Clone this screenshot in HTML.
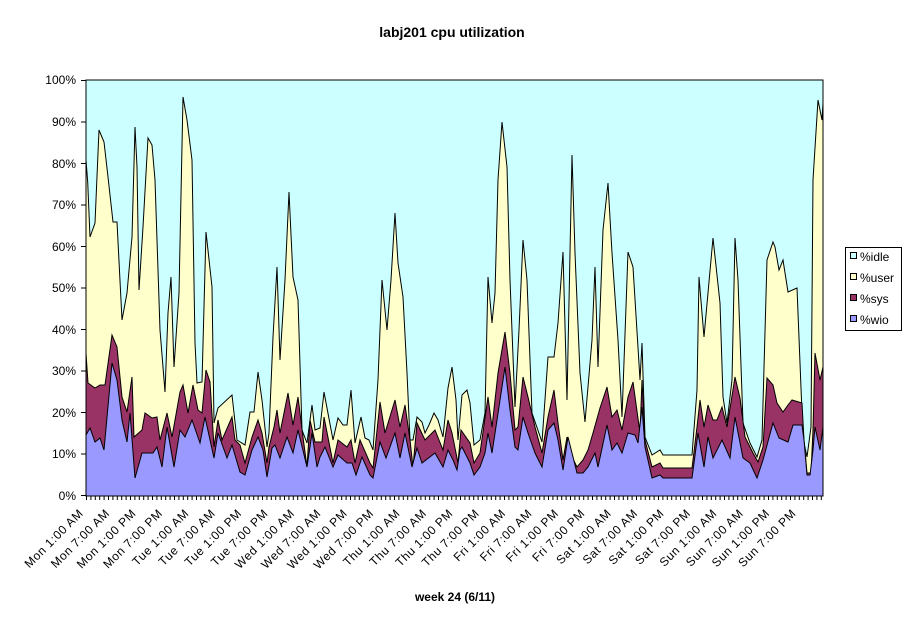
<!DOCTYPE html>
<html><head><meta charset="utf-8"><style>body{margin:0;background:#fff}svg{display:block}text{font-family:"Liberation Sans",Arial,sans-serif}</style></head><body>
<svg width="911" height="623" xmlns="http://www.w3.org/2000/svg">
<rect x="0" y="0" width="911" height="623" fill="#fff"/>
<text x="452" y="37" font-size="14" font-weight="bold" text-anchor="middle">labj201 cpu utilization</text>
<rect x="86" y="80" width="737" height="416" fill="#ccffff" stroke="#000" stroke-width="1"/>
<polygon fill="#ffffcc" stroke="#000" stroke-width="1" points="86,496 86,160 87.7,182 90,237 95,223 99,130 104,142 108,177 113,222 117,222 122,320 127,293 132,237 135,127 137,167 139,290 143,227 148,138 152,145 155,180 160,330 165,392 168,313 171,277 174,367 179,293 183,97 187,120 192,160 195,343 197,383 202,382 206,232 212,287 214,423 218,408 232,395 237,440 245,445 250,412 254,412 258,372 262,400 267,447 269,433 273,337 277,267 280,360 285,280 289,192 293,277 298,300 302,430 307,443 312,405 315,430 320,428 324,392 333,440 338,418 343,425 347,425 351,390 355,443 361,417 365,438 369,440 373,450 378,380 382,280 387,330 391,280 395,213 398,263 403,297 407,373 410,440 413,440 417,417 422,422 425,433 429,425 434,413 438,420 443,437 448,388 452,367 456,400 458,440 462,395 467,390 470,403 474,445 480,440 485,413 488,277 492,323 495,293 498,180 502,122 507,167 510,280 515,407 519,330 523,240 527,280 532,413 542,442 548,357 554,357 558,323 563,252 567,400 572,155 575,253 580,373 585,422 592,340 595,267 598,367 603,230 608,183 612,253 618,340 622,417 628,252 633,267 640,380 642,343 645,437 652,455 660,450 663,455 692,455 697,390 699,277 704,337 713,238 720,303 723,397 727,423 732,380 735,238 738,280 743,423 750,443 757,457 762,440 767,260 773,242 775,247 779,270 783,260 788,292 797,288 803,438 807,457 811,427 813,180 818,100 822,120 823,103 823,496"/>
<polygon fill="#993366" stroke="#000" stroke-width="1" points="86,496 86,353 88,383 95,388 100,385 105,385 112,335 117,347 122,397 127,412 132,377 134,437 142,430 145,413 152,418 157,417 160,440 167,413 172,437 180,392 183,385 188,413 193,385 198,410 202,413 206,370 210,382 214,447 218,420 222,440 232,417 235,440 240,445 245,463 252,437 258,420 262,433 267,463 269,447 274,427 277,410 280,433 288,393 293,425 298,397 303,437 307,467 310,420 315,442 322,442 324,417 333,463 338,440 347,447 351,440 355,463 360,440 370,463 373,468 380,402 385,433 395,400 400,427 405,405 410,440 413,467 417,423 425,440 435,430 443,450 448,420 452,433 455,448 458,463 461,430 470,443 474,463 480,453 488,397 492,427 498,373 505,332 510,373 515,430 518,427 523,377 528,397 535,427 542,453 548,417 554,390 558,423 563,460 567,437 572,457 577,467 583,460 588,450 593,433 600,408 607,387 612,417 617,410 622,430 628,397 633,382 640,433 642,380 645,440 652,467 660,463 663,468 692,468 697,427 700,400 704,427 708,405 713,420 717,420 722,407 727,427 735,377 740,398 745,437 753,453 758,462 763,447 767,378 773,385 777,403 783,412 788,405 792,400 802,403 804,440 807,473 811,473 813,430 815,353 820,380 823,367 823,496"/>
<polygon fill="#9999ff" stroke="#000" stroke-width="1" points="86,496 86,435 90,428 95,442 100,438 104,450 112,363 117,380 122,420 127,442 130,413 135,478 142,453 148,453 153,453 157,447 162,467 167,427 174,467 180,430 185,437 192,420 200,443 205,417 214,458 218,433 227,458 232,445 240,472 245,475 252,450 258,437 263,450 267,477 272,448 275,445 280,458 287,437 293,453 298,430 307,467 312,433 317,467 320,457 325,447 333,467 338,455 347,463 352,463 356,475 362,457 370,475 373,478 380,442 386,458 395,433 400,458 405,433 412,467 417,448 422,463 435,453 443,467 448,450 453,460 457,470 460,450 462,447 470,463 474,475 480,467 485,453 488,433 492,453 497,420 505,367 510,410 515,447 518,450 523,417 528,433 535,453 542,467 548,430 554,423 558,440 563,470 568,437 572,453 577,473 583,473 588,467 595,453 598,467 607,425 612,450 617,443 622,453 628,433 635,435 638,443 642,407 645,447 652,478 660,475 663,478 692,478 698,433 704,467 708,437 713,458 722,440 730,458 735,417 743,458 750,463 757,478 763,460 773,423 779,438 788,442 793,425 802,425 804,440 807,475 810,475 813,450 815,427 820,450 823,427 823,496"/>
<rect x="86" y="80" width="737" height="416" fill="none" stroke="#000" stroke-width="1"/>
<g stroke="#000" stroke-width="1">
<line x1="81" y1="80.5" x2="86" y2="80.5"/><line x1="81" y1="122" x2="86" y2="122"/><line x1="81" y1="163.5" x2="86" y2="163.5"/><line x1="81" y1="205" x2="86" y2="205"/><line x1="81" y1="246.5" x2="86" y2="246.5"/><line x1="81" y1="288" x2="86" y2="288"/><line x1="81" y1="329.5" x2="86" y2="329.5"/><line x1="81" y1="371" x2="86" y2="371"/><line x1="81" y1="412.5" x2="86" y2="412.5"/><line x1="81" y1="454" x2="86" y2="454"/><line x1="81" y1="495.5" x2="86" y2="495.5"/>
</g>
<g font-size="12" text-anchor="end">
<text x="76" y="84">100%</text><text x="76" y="126">90%</text><text x="76" y="168">80%</text><text x="76" y="209">70%</text><text x="76" y="251">60%</text><text x="76" y="292">50%</text><text x="76" y="334">40%</text><text x="76" y="375">30%</text><text x="76" y="417">20%</text><text x="76" y="458">10%</text><text x="76" y="500">0%</text>
</g>
<path stroke="#000" stroke-width="1" fill="none" d="M86.5 496v4M90.9 496v4M95.3 496v4M99.7 496v4M104.1 496v4M108.5 496v4M112.9 496v4M117.3 496v4M121.7 496v4M126.1 496v4M130.5 496v4M134.9 496v4M139.3 496v4M143.7 496v4M148.1 496v4M152.5 496v4M156.9 496v4M161.3 496v4M165.7 496v4M170.1 496v4M174.5 496v4M178.9 496v4M183.3 496v4M187.7 496v4M192.1 496v4M196.5 496v4M200.9 496v4M205.3 496v4M209.7 496v4M214.1 496v4M218.5 496v4M222.9 496v4M227.3 496v4M231.7 496v4M236.1 496v4M240.5 496v4M244.9 496v4M249.3 496v4M253.7 496v4M258.1 496v4M262.5 496v4M266.9 496v4M271.3 496v4M275.7 496v4M280.1 496v4M284.5 496v4M288.9 496v4M293.3 496v4M297.7 496v4M302.1 496v4M306.5 496v4M310.9 496v4M315.3 496v4M319.7 496v4M324.1 496v4M328.5 496v4M332.9 496v4M337.3 496v4M341.7 496v4M346.1 496v4M350.5 496v4M354.9 496v4M359.3 496v4M363.7 496v4M368.1 496v4M372.5 496v4M376.9 496v4M381.3 496v4M385.7 496v4M390.1 496v4M394.5 496v4M398.9 496v4M403.3 496v4M407.7 496v4M412.1 496v4M416.5 496v4M420.9 496v4M425.3 496v4M429.7 496v4M434.1 496v4M438.5 496v4M442.9 496v4M447.3 496v4M451.7 496v4M456.1 496v4M460.5 496v4M464.9 496v4M469.3 496v4M473.7 496v4M478.1 496v4M482.5 496v4M486.9 496v4M491.3 496v4M495.7 496v4M500.1 496v4M504.5 496v4M508.9 496v4M513.3 496v4M517.7 496v4M522.1 496v4M526.5 496v4M530.9 496v4M535.3 496v4M539.7 496v4M544.1 496v4M548.5 496v4M552.9 496v4M557.3 496v4M561.7 496v4M566.1 496v4M570.5 496v4M574.9 496v4M579.3 496v4M583.7 496v4M588.1 496v4M592.5 496v4M596.9 496v4M601.3 496v4M605.7 496v4M610.1 496v4M614.5 496v4M618.9 496v4M623.3 496v4M627.7 496v4M632.1 496v4M636.5 496v4M640.9 496v4M645.3 496v4M649.7 496v4M654.1 496v4M658.5 496v4M662.9 496v4M667.3 496v4M671.7 496v4M676.1 496v4M680.5 496v4M684.9 496v4M689.3 496v4M693.7 496v4M698.1 496v4M702.5 496v4M706.9 496v4M711.3 496v4M715.7 496v4M720.1 496v4M724.5 496v4M728.9 496v4M733.3 496v4M737.7 496v4M742.1 496v4M746.5 496v4M750.9 496v4M755.3 496v4M759.7 496v4M764.1 496v4M768.5 496v4M772.9 496v4M777.3 496v4M781.7 496v4M786.1 496v4M790.5 496v4M794.9 496v4M799.3 496v4M803.7 496v4M808.1 496v4M812.5 496v4M816.9 496v4M821.3 496v4"/>
<g font-size="12" text-anchor="end" letter-spacing="0.6">
<text transform="translate(84,514) rotate(-45)">Mon 1:00 AM</text>
<text transform="translate(110.4,514) rotate(-45)">Mon 7:00 AM</text>
<text transform="translate(136.8,514) rotate(-45)">Mon 1:00 PM</text>
<text transform="translate(163.2,514) rotate(-45)">Mon 7:00 PM</text>
<text transform="translate(189.6,514) rotate(-45)">Tue 1:00 AM</text>
<text transform="translate(216,514) rotate(-45)">Tue 7:00 AM</text>
<text transform="translate(242.4,514) rotate(-45)">Tue 1:00 PM</text>
<text transform="translate(268.8,514) rotate(-45)">Tue 7:00 PM</text>
<text transform="translate(295.2,514) rotate(-45)">Wed 1:00 AM</text>
<text transform="translate(321.6,514) rotate(-45)">Wed 7:00 AM</text>
<text transform="translate(348,514) rotate(-45)">Wed 1:00 PM</text>
<text transform="translate(374.4,514) rotate(-45)">Wed 7:00 PM</text>
<text transform="translate(400.8,514) rotate(-45)">Thu 1:00 AM</text>
<text transform="translate(427.2,514) rotate(-45)">Thu 7:00 AM</text>
<text transform="translate(453.6,514) rotate(-45)">Thu 1:00 PM</text>
<text transform="translate(480,514) rotate(-45)">Thu 7:00 PM</text>
<text transform="translate(506.4,514) rotate(-45)">Fri 1:00 AM</text>
<text transform="translate(532.8,514) rotate(-45)">Fri 7:00 AM</text>
<text transform="translate(559.2,514) rotate(-45)">Fri 1:00 PM</text>
<text transform="translate(585.6,514) rotate(-45)">Fri 7:00 PM</text>
<text transform="translate(612,514) rotate(-45)">Sat 1:00 AM</text>
<text transform="translate(638.4,514) rotate(-45)">Sat 7:00 AM</text>
<text transform="translate(664.8,514) rotate(-45)">Sat 1:00 PM</text>
<text transform="translate(691.2,514) rotate(-45)">Sat 7:00 PM</text>
<text transform="translate(717.6,514) rotate(-45)">Sun 1:00 AM</text>
<text transform="translate(744,514) rotate(-45)">Sun 7:00 AM</text>
<text transform="translate(770.4,514) rotate(-45)">Sun 1:00 PM</text>
<text transform="translate(796.8,514) rotate(-45)">Sun 7:00 PM</text>
</g>
<text x="455" y="601" font-size="12" font-weight="bold" text-anchor="middle">week 24 (6/11)</text>
<rect x="845.5" y="247.5" width="56" height="83" fill="#fff" stroke="#000"/>
<g stroke="#000" stroke-width="1">
<rect x="850.5" y="252.5" width="6" height="6" fill="#ccffff"/>
<rect x="850.5" y="273.5" width="6" height="6" fill="#ffffcc"/>
<rect x="850.5" y="294.5" width="6" height="6" fill="#993366"/>
<rect x="850.5" y="315.5" width="6" height="6" fill="#9999ff"/>
</g>
<g font-size="12">
<text x="860" y="261">%idle</text>
<text x="860" y="282">%user</text>
<text x="860" y="303">%sys</text>
<text x="860" y="324">%wio</text>
</g>
</svg>
</body></html>
